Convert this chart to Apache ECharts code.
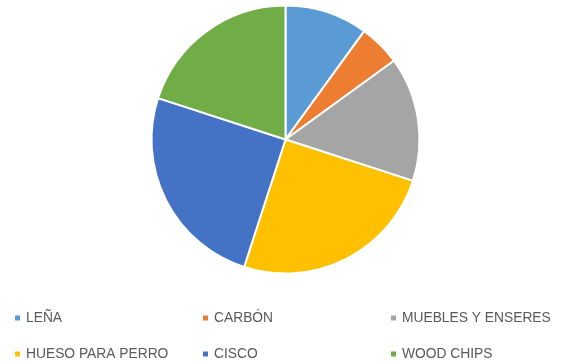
<!DOCTYPE html>
<html><head><meta charset="utf-8">
<script src="https://cdn.jsdelivr.net/npm/echarts@6/dist/echarts.min.js"></script>
<style>html,body{margin:0;padding:0;background:#fff}#c{width:563px;height:362px}</style>
</head><body><div id="c"></div>
<script>
const categories = ['LEÑA','CARBÓN','MUEBLES Y ENSERES','HUESO PARA PERRO','CISCO','WOOD CHIPS'];
const values = [10,5,15,25,25,20];
const colors = ['#5B9BD5','#ED7D31','#A5A5A5','#FFC000','#4472C4','#70AD47'];
const legendPos = [[13,318],[201,318],[389,318],[13,354],[201,354],[389,354]];
const chart = echarts.init(document.getElementById('c'), null, {renderer:'canvas'});
const lh = 18;
const legends = categories.map((name,i)=>({
  data:[name], left:legendPos[i][0], top:legendPos[i][1]-lh/2, orient:'horizontal',
  itemWidth:7, itemHeight:7, icon:'rect', padding:0,
  textStyle:{fontFamily:'"Liberation Sans", Arial, sans-serif', fontSize:13.8, color:'#595959', lineHeight:lh},
  selectedMode:false
}));
chart.setOption({
  animation:false,
  color:colors,
  legend:legends,
  series:[{
    type:'pie', center:[285.5,139.5], radius:134, startAngle:90, clockwise:true,
    label:{show:false}, labelLine:{show:false},
    itemStyle:{borderColor:'#fff', borderWidth:2},
    emphasis:{disabled:true},
    data:categories.map((n,i)=>({name:n,value:values[i]}))
  }]
});
</script></body></html>
